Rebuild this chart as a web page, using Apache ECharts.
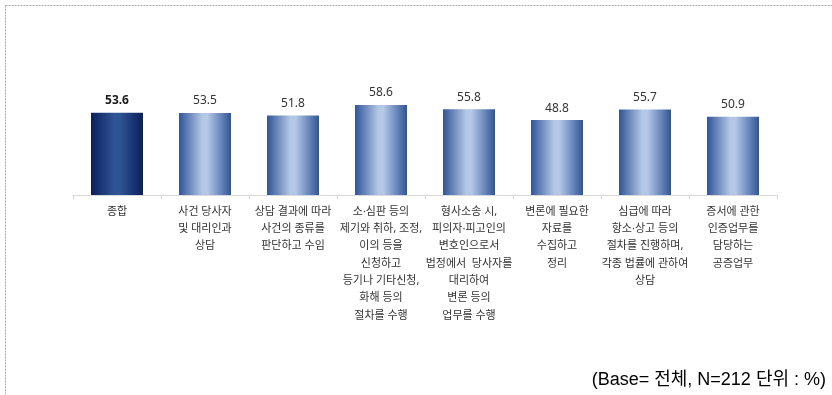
<!DOCTYPE html>
<html>
<head>
<meta charset="utf-8">
<script src="https://cdn.jsdelivr.net/npm/echarts@6/dist/echarts.min.js"></script>
<style>
  html, body { margin: 0; padding: 0; background: #ffffff; }
  #chart { width: 832px; height: 395px; }
</style>
</head>
<body>
<div id="chart"></div>
<script>
// Work areas of a lawyer, share of respondents (%)
const categories = [
  '종합',
  '사건 당사자\n및 대리인과\n상담',
  '상담 결과에 따라\n사건의 종류를\n판단하고 수임',
  '소·심판 등의\n제기와 취하, 조정,\n이의 등을\n신청하고\n등기나 기타신청,\n화해 등의\n절차를 수행',
  '형사소송 시,\n피의자·피고인의\n변호인으로서\n법정에서  당사자를\n대리하여\n변론 등의\n업무를 수행',
  '변론에 필요한\n자료를\n수집하고\n정리',
  '심급에 따라\n항소·상고 등의\n절차를 진행하며,\n각종 법률에 관하여\n상담',
  '증서에 관한\n인증업무를\n담당하는\n공증업무'
];
const values = [53.6, 53.5, 51.8, 58.6, 55.8, 48.8, 55.7, 50.9];
const baseNote = '(Base= 전체, N=212 단위 : %)';

const FONT = '"Noto Sans", "Noto Sans CJK KR", sans-serif';

function barGradient(edge, mid) {
  return new echarts.graphic.LinearGradient(0, 0, 1, 0, [
    { offset: 0, color: edge },
    { offset: 0.45, color: mid },
    { offset: 0.55, color: mid },
    { offset: 1, color: edge }
  ]);
}

const totalStyle = { color: barGradient('#0b1f5b', '#2f5496') };
const itemStyle = { color: barGradient('#2f5597', '#b4c7e7') };

const chart = echarts.init(document.getElementById('chart'), null, { renderer: 'canvas' });

chart.setOption({
  animation: false,
  backgroundColor: '#ffffff',
  grid: { left: 73, right: 55, top: 41.5, bottom: 200, containLabel: false },
  xAxis: {
    type: 'category',
    data: categories,
    axisLine: { lineStyle: { color: '#d9d9d9', width: 1 } },
    axisTick: { show: true, length: 4, lineStyle: { color: '#d9d9d9' } },
    axisLabel: {
      interval: 0,
      margin: 8,
      color: '#333333',
      fontSize: 11,
      fontFamily: FONT,
      lineHeight: 17.3,
      align: 'center',
      verticalAlign: 'top'
    }
  },
  yAxis: {
    type: 'value',
    min: 0,
    max: 100,
    show: false,
    splitLine: { show: false }
  },
  series: [{
    type: 'bar',
    barWidth: 52,
    data: values.map((v, i) => ({
      value: v,
      itemStyle: i === 0 ? totalStyle : itemStyle,
      label: i === 0 ? { fontWeight: 'bold', color: '#1a1a1a' } : {}
    })),
    label: {
      show: true,
      position: 'top',
      distance: 6,
      fontSize: 12,
      fontFamily: FONT,
      color: '#333333',
      formatter: p => p.value.toFixed(1)
    }
  }],
  graphic: [
    {
      type: 'line',
      shape: { x1: 5.5, y1: 5.5, x2: 832, y2: 5.5 },
      style: { stroke: '#a8a8a8', lineWidth: 1, lineDash: [2, 1] },
      silent: true
    },
    {
      type: 'line',
      shape: { x1: 5.5, y1: 5.5, x2: 5.5, y2: 395 },
      style: { stroke: '#a8a8a8', lineWidth: 1, lineDash: [2, 1] },
      silent: true
    },
    {
      type: 'text',
      right: 6,
      top: 371,
      style: {
        text: baseNote,
        font: '18px "Liberation Sans", "Noto Sans CJK KR", sans-serif',
        fill: '#000000'
      }
    }
  ]
});
</script>
</body>
</html>
